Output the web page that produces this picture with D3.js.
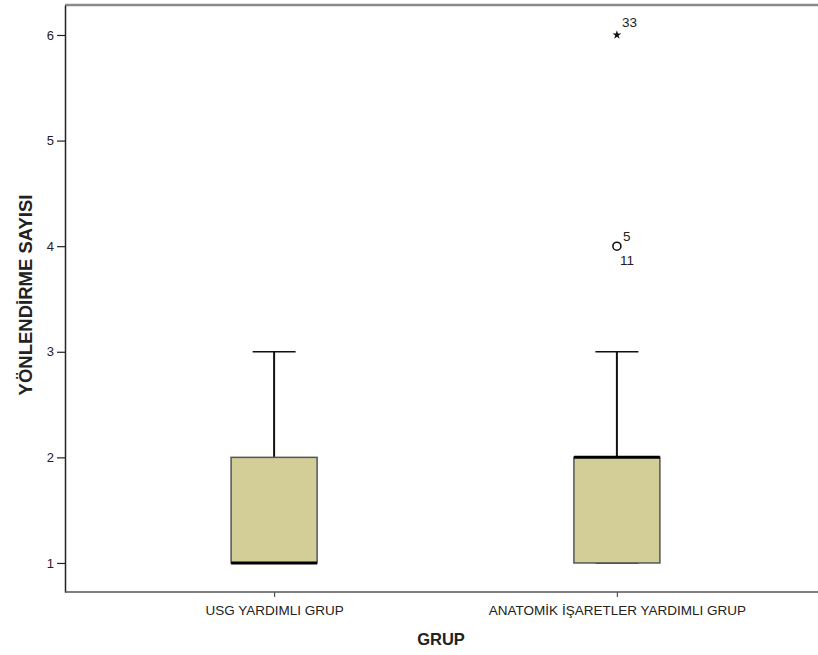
<!DOCTYPE html>
<html>
<head>
<meta charset="utf-8">
<script src="https://cdn.jsdelivr.net/npm/d3@7/dist/d3.min.js"></script>
<style>
  html, body { margin: 0; padding: 0; background: #fff; }
  svg { display: block; font-family: "Liberation Sans", Arial, sans-serif; }
</style>
</head>
<body>
<svg id="chart" width="818" height="655"></svg>
<script>
// Groups and their box-plot summaries
const categories = ["USG YARDIMLI GRUP", "ANATOMİK İŞARETLER YARDIMLI GRUP"];
const lowerWhisker = [1, 1];
const q1 = [1, 1];
const medians = [1, 2];
const q3 = [2, 2];
const upperWhisker = [3, 3];

// Extreme values: circle = outlier, star = far outlier, with case numbers
const outlierGroup = ["ANATOMİK İŞARETLER YARDIMLI GRUP", "ANATOMİK İŞARETLER YARDIMLI GRUP"];
const outlierValue = [4, 6];
const outlierKind = ["circle", "star"];
const outlierCases = [["5", "11"], ["33"]];

const yTicks = [1, 2, 3, 4, 5, 6];

const svg = d3.select("#chart");
const plotLeft = 65, plotRight = 818, plotTop = 5, plotBottom = 592;

const y = d3.scaleLinear().domain([0.725, 6.284]).range([plotBottom, plotTop]);
const x = d3.scalePoint().domain(categories).range([plotLeft, 826]).padding(0.61);

const boxW = 86, capW = 43;
const fill = "#d3cd97";

// Frame: top border
svg.append("line")
  .attr("x1", plotLeft).attr("x2", plotRight).attr("y1", plotTop).attr("y2", plotTop)
  .attr("stroke", "#8a8a8a").attr("stroke-width", 2.5);

// Y axis
const yAxis = svg.append("g").attr("transform", `translate(${plotLeft},0)`)
  .call(d3.axisLeft(y).tickValues(yTicks).tickSize(8).tickSizeOuter(0).tickPadding(3).tickFormat(d3.format("d")));
yAxis.select(".domain").attr("stroke", "#222").attr("stroke-width", 1.5);
yAxis.selectAll(".tick line").attr("stroke", "#222").attr("stroke-width", 1.2);
yAxis.selectAll(".tick text").attr("font-size", 13).attr("fill", "#222")
  .attr("font-family", "Liberation Sans, Arial, sans-serif");

// X axis
const xAxis = svg.append("g").attr("transform", `translate(0,${plotBottom})`)
  .call(d3.axisBottom(x).tickSize(5).tickSizeOuter(0).tickPadding(8));
xAxis.select(".domain").remove();
svg.append("line")
  .attr("x1", plotLeft).attr("x2", plotRight).attr("y1", plotBottom).attr("y2", plotBottom)
  .attr("stroke", "#555").attr("stroke-width", 1.5);
xAxis.selectAll(".tick line").attr("stroke", "#555").attr("stroke-width", 1.2);
xAxis.selectAll(".tick text").attr("font-size", 13.5).attr("fill", "#222")
  .attr("font-family", "Liberation Sans, Arial, sans-serif");

// Axis titles
svg.append("text")
  .attr("transform", `translate(32,295) rotate(-90)`)
  .attr("text-anchor", "middle")
  .attr("font-size", 18.5).attr("font-weight", "bold").attr("fill", "#222")
  .text("YÖNLENDİRME SAYISI");
svg.append("text")
  .attr("x", 441).attr("y", 645)
  .attr("text-anchor", "middle")
  .attr("font-size", 16.5).attr("font-weight", "bold").attr("fill", "#222")
  .text("GRUP");

// Boxes
categories.forEach((c, i) => {
  const cx = x(c);
  const g = svg.append("g");
  // whisker stems
  g.append("line").attr("x1", cx).attr("x2", cx)
    .attr("y1", y(q3[i])).attr("y2", y(upperWhisker[i]))
    .attr("stroke", "#111").attr("stroke-width", 2);
  g.append("line").attr("x1", cx).attr("x2", cx)
    .attr("y1", y(q1[i])).attr("y2", y(lowerWhisker[i]))
    .attr("stroke", "#111").attr("stroke-width", 2);
  // caps
  g.append("line").attr("x1", cx - capW / 2).attr("x2", cx + capW / 2)
    .attr("y1", y(upperWhisker[i])).attr("y2", y(upperWhisker[i]))
    .attr("stroke", "#111").attr("stroke-width", 1.5);
  g.append("line").attr("x1", cx - capW / 2).attr("x2", cx + capW / 2)
    .attr("y1", y(lowerWhisker[i])).attr("y2", y(lowerWhisker[i]))
    .attr("stroke", "#111").attr("stroke-width", 1.5);
  // box
  g.append("rect")
    .attr("x", cx - boxW / 2).attr("width", boxW)
    .attr("y", y(q3[i])).attr("height", y(q1[i]) - y(q3[i]))
    .attr("fill", fill).attr("stroke", "#555").attr("stroke-width", 1.5);
  // median
  g.append("line").attr("x1", cx - boxW / 2).attr("x2", cx + boxW / 2)
    .attr("y1", y(medians[i])).attr("y2", y(medians[i]))
    .attr("stroke", "#000").attr("stroke-width", 3);
});

// Outliers
outlierValue.forEach((v, i) => {
  const cx = x(outlierGroup[i]);
  const cy = y(v);
  if (outlierKind[i] === "circle") {
    svg.append("circle").attr("cx", cx).attr("cy", cy).attr("r", 4)
      .attr("fill", "none").attr("stroke", "#111").attr("stroke-width", 1.6);
    svg.append("text").attr("x", cx + 6).attr("y", cy - 5)
      .attr("font-size", 13.5).attr("fill", "#222").text(outlierCases[i][0]);
    svg.append("text").attr("x", cx + 3).attr("y", cy + 19)
      .attr("font-size", 13.5).attr("fill", "#222").text(outlierCases[i][1]);
  } else {
    svg.append("path")
      .attr("d", d3.symbol().type(d3.symbolStar).size(24)())
      .attr("transform", `translate(${cx},${cy})`)
      .attr("fill", "#111");
    svg.append("text").attr("x", cx + 5).attr("y", cy - 8)
      .attr("font-size", 13.5).attr("fill", "#222").text(outlierCases[i][0]);
  }
});
</script>
</body>
</html>
